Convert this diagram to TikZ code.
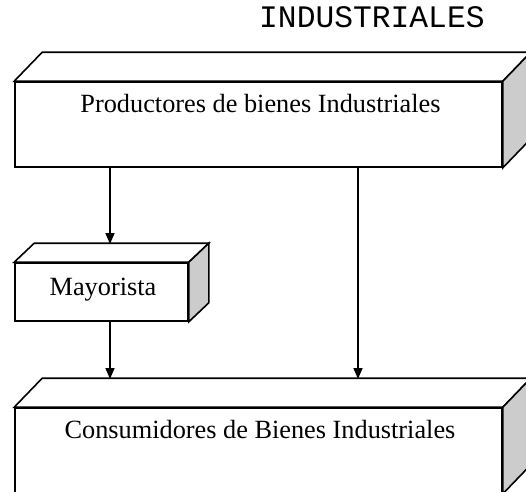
\documentclass[tikz,border=0pt]{standalone}
\usepackage{fontspec}
\setmainfont{Liberation Serif}
\newfontfamily\monofnt{Liberation Mono}
\usetikzlibrary{arrows.meta}
\definecolor{sidegray}{RGB}{204,204,204}
\tikzset{
  face/.style={draw=black, line width=1.6pt, fill=white, inner sep=0pt},
  sideface/.style={draw=black, line width=1.6pt, fill=sidegray, line join=miter},
  topface/.style={draw=black, line width=1.6pt, fill=white, line join=miter},
  lbl/.style={font=\fontsize{26.3}{30}\selectfont, inner sep=0pt},
  arr/.style={line width=1.6pt, -{Triangle[length=11pt,width=9pt]}},
}
\newcommand{\mycuboid}[3]{%
  \path[topface] (#1.north west) -- ++(#2,-#3) -- ([shift={(#2,-#3)}]#1.north east) -- (#1.north east) -- cycle;
  \path[sideface] (#1.north east) -- ++(#2,-#3) -- ([shift={(#2,-#3)}]#1.south east) -- (#1.south east) -- cycle;
}
\begin{document}
\begin{tikzpicture}[x=1pt,y=-1pt]
\useasboundingbox (0,0) rectangle (526,491);
\clip (0,0) rectangle (526,491);
\node[font=\monofnt\fontsize{31.3}{34}\selectfont, inner sep=0pt, anchor=base west] (title) at (259,27) {INDUSTRIALES};
% top box
\node[face, minimum width=487pt, minimum height=85pt] (prod) at (258.5,124.5) {};
\mycuboid{prod}{28}{29}
\node[lbl, anchor=base] (prodtxt) at (260.5,112) {Productores de bienes Industriales};
% mayorista
\node[face, minimum width=173pt, minimum height=58pt] (may) at (101.5,292) {};
\mycuboid{may}{20}{19}
\node[lbl, anchor=base] (maytxt) at (103,295) {Mayorista};
% bottom box
\node[face, minimum width=487pt, minimum height=85pt] (cons) at (258.5,450.5) {};
\mycuboid{cons}{28}{29}
\node[lbl, anchor=base] (constxt) at (260,438) {Consumidores de Bienes Industriales};
% coordinates on top back edges
\coordinate (maytop) at (110,244);
\coordinate (constopL) at (110,379);
\coordinate (constopR) at (358,379);
% arrows
\draw[arr] (prod.south -| maytop) -- (maytop);
\draw[arr] (may.south -| constopL) -- (constopL);
\draw[arr] (prod.south -| constopR) -- (constopR);
\end{tikzpicture}
\end{document}
